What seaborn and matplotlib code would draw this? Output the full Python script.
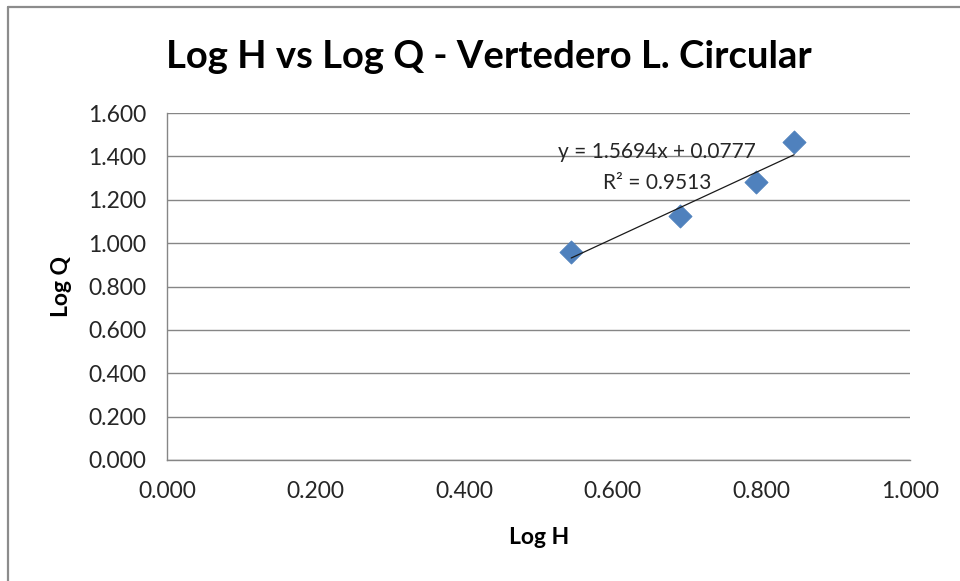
import matplotlib
matplotlib.use("Agg")
import matplotlib.pyplot as plt
from matplotlib.lines import Line2D
import seaborn as sns
import pandas as pd

# ---- data ----
log_h = [0.544, 0.691, 0.793, 0.844]
log_q = [0.960, 1.123, 1.283, 1.464]
x_ticks = [0.0, 0.2, 0.4, 0.6, 0.8, 1.0]
y_ticks = [0.0, 0.2, 0.4, 0.6, 0.8, 1.0, 1.2, 1.4, 1.6]
title_text = "Log H vs Log Q - Vertedero L. Circular"
x_label = "Log H"
y_label = "Log Q"
eq_text = "y = 1.5694x + 0.0777"
r2_text = "R² = 0.9513"

sns.set_theme(style="white")
plt.rcParams['font.family'] = ['Lato', 'DejaVu Sans']

W, H = 960, 581
fig = plt.figure(figsize=(W / 100, H / 100), dpi=100)
fig.patch.set_facecolor("white")

ax = fig.add_axes([167 / W, 1 - 460 / H, (910 - 167) / W, (460 - 113) / H])

df = pd.DataFrame({x_label: log_h, y_label: log_q})
sns.regplot(data=df, x=x_label, y=y_label, ax=ax, ci=None, marker="D",
            scatter_kws=dict(s=140, color="#4F81BD", edgecolor="#4A7EBB",
                             linewidths=0.5, alpha=1, zorder=3),
            line_kws=dict(color="#1a1a1a", lw=0.9, zorder=4))

ax.set_xlim(x_ticks[0], x_ticks[-1])
ax.set_ylim(y_ticks[0], y_ticks[-1])
ax.set_xticks(x_ticks)
ax.set_yticks(y_ticks)
ax.set_xticklabels([f"{v:.3f}" for v in x_ticks])
ax.set_yticklabels([f"{v:.3f}" for v in y_ticks])
ax.set_xlabel("")
ax.set_ylabel("")

grid_c = "#868686"
ax.yaxis.grid(True, color=grid_c, lw=1)
ax.xaxis.grid(False)
ax.set_axisbelow(True)
for s in ["top", "right"]:
    ax.spines[s].set_visible(False)
for s in ["left", "bottom"]:
    ax.spines[s].set_color(grid_c)
    ax.spines[s].set_linewidth(1)
ax.tick_params(axis="both", direction="out", length=6, width=1, color=grid_c,
               labelsize=16.5, labelcolor="#262626")
ax.tick_params(axis="y", pad=9)
ax.tick_params(axis="x", pad=9)

fig.text(489 / W, 1 - 57 / H, title_text, ha="center", va="center",
         fontsize=27.5, fontweight="bold", color="black")
fig.text(539 / W, 1 - 537 / H, x_label, ha="center", va="center",
         fontsize=16.5, fontweight="bold", color="black")
fig.text(62 / W, 1 - 287 / H, y_label, ha="center", va="center", rotation=90,
         fontsize=16.5, fontweight="bold", color="black")
fig.text(657 / W, 1 - 152 / H, eq_text, ha="center", va="center",
         fontsize=15, color="#262626")
fig.text(657 / W, 1 - 183 / H, r2_text, ha="center", va="center",
         fontsize=15, color="#262626")

# outer chart border (left and top visible)
border_c = "#8c8c8c"
fig.add_artist(Line2D([8 / W, 8 / W], [0, 1 - 7 / H], color=border_c, lw=1.6,
                      transform=fig.transFigure))
fig.add_artist(Line2D([8 / W, 1], [1 - 7 / H, 1 - 7 / H], color=border_c, lw=1.6,
                      transform=fig.transFigure))

fig.savefig("out.png", dpi=100, facecolor="white")
